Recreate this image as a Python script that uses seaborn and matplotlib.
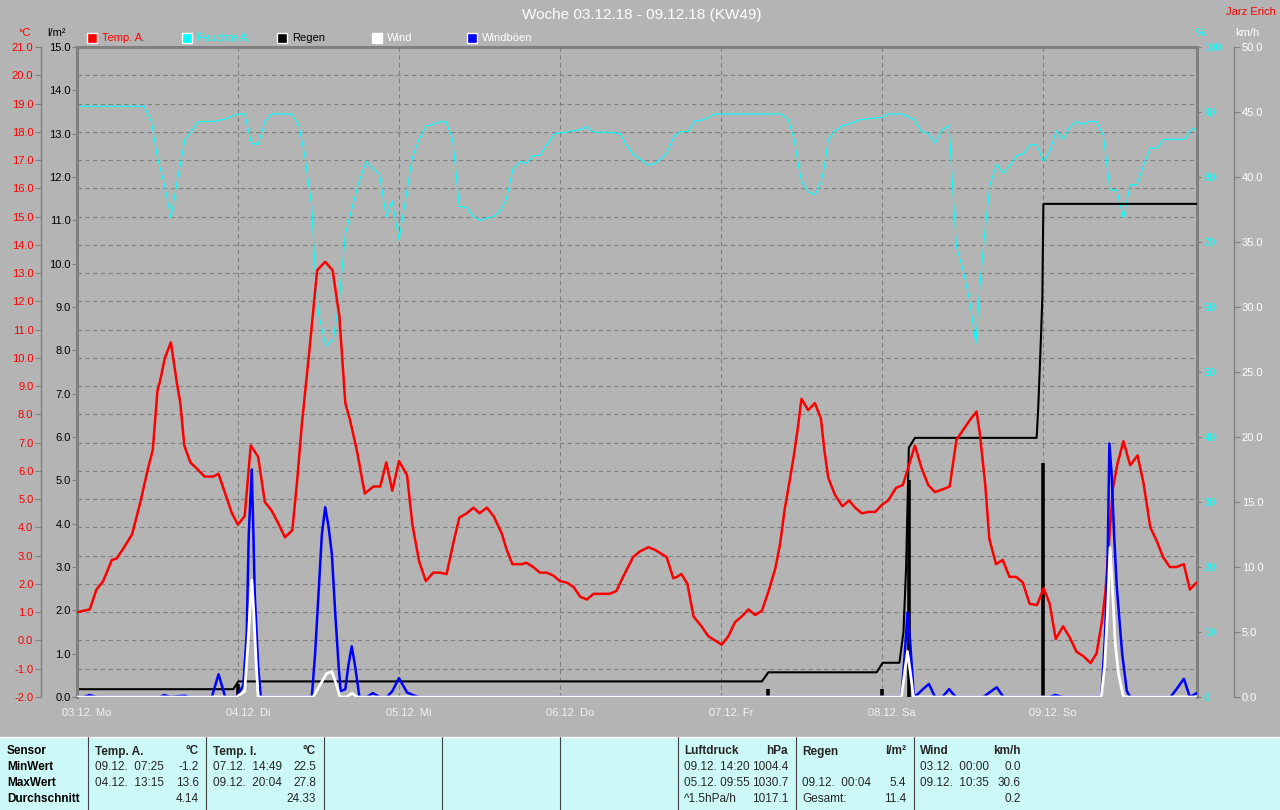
import numpy as np
import matplotlib.pyplot as plt
import seaborn as sns
from matplotlib.patches import Rectangle
from matplotlib.lines import Line2D
from matplotlib.transforms import blended_transform_factory

sns.set_style("white")
plt.rcParams['font.family'] = ['Liberation Sans', 'DejaVu Sans']

# ---- data (hours since 03.12. 00:00) ----
temp_h = [0.0, 1.9, 2.9, 3.9, 5.2, 5.9, 6.9, 8.2, 9.4, 10.6, 11.3, 12.0, 12.4, 13.1, 14.0, 14.9,
          15.4, 16.0, 16.9, 17.8, 19.0, 20.3, 21.1, 21.8, 23.1, 24.0, 25.0, 25.9, 27.0, 28.0,
          29.0, 30.0, 31.0, 32.1, 32.8, 33.5, 34.7, 35.8, 37.0, 38.1, 39.1, 40.0, 40.7, 41.7,
          42.9, 44.2, 45.2, 46.1, 47.0, 48.0, 49.2, 50.0, 51.0, 52.0, 53.1, 54.1, 55.1, 56.1,
          57.0, 58.1, 59.1, 60.0, 61.1, 62.1, 63.3, 64.0, 64.9, 66.3, 67.0, 68.0, 69.0, 70.0,
          71.0, 72.0, 73.0, 74.0, 75.0, 76.0, 77.0, 78.0, 79.4, 80.4, 81.4, 82.9, 83.9, 85.2,
          86.2, 86.9, 87.9, 88.9, 89.4, 90.1, 91.0, 91.9, 93.1, 94.1, 95.1, 96.1, 97.1, 98.1,
          99.1, 100.1, 101.1, 102.1, 103.1, 104.1, 104.8, 105.5, 106.2, 106.9, 107.5, 108.0,
          109.0, 110.0, 110.9, 111.4, 112.0, 113.0, 114.1, 115.1, 116.0, 117.0, 118.0, 119.0,
          120.0, 120.9, 122.1, 123.1, 123.9, 124.9, 125.9, 126.9, 127.9, 129.1, 130.1, 131.1,
          132.1, 133.1, 134.1, 134.6, 135.4, 136.0, 137.0, 138.0, 139.0, 140.0, 141.0, 142.0,
          143.1, 144.1, 145.0, 145.9, 147.0, 148.0, 149.0, 150.0, 151.1, 152.0, 152.8, 153.3,
          153.9, 154.4, 155.1, 156.0, 157.0, 158.1, 159.0, 160.0, 161.0, 161.9, 162.9, 163.9,
          165.0, 165.9, 166.9]
temp_c = [1.0, 1.1, 1.8, 2.1, 2.85, 2.9, 3.25, 3.75, 4.85, 6.1, 6.75, 8.85, 9.2, 10.0, 10.55, 9.1,
          8.4, 6.9, 6.3, 6.1, 5.8, 5.8, 5.9, 5.4, 4.5, 4.1, 4.4, 6.9, 6.5, 4.9,
          4.6, 4.15, 3.65, 3.9, 5.6, 7.6, 10.4, 13.1, 13.4, 13.1, 11.5, 8.4, 7.8, 6.75,
          5.2, 5.45, 5.45, 6.3, 5.3, 6.35, 5.85, 4.1, 2.8, 2.1, 2.4, 2.4, 2.35, 3.45,
          4.35, 4.5, 4.7, 4.5, 4.7, 4.4, 3.8, 3.25, 2.7, 2.7, 2.75, 2.6, 2.4, 2.4,
          2.3, 2.1, 2.05, 1.9, 1.55, 1.45, 1.65, 1.65, 1.65, 1.75, 2.25, 2.95, 3.15, 3.3,
          3.2, 3.1, 2.95, 2.2, 2.25, 2.35, 2.0, 0.85, 0.5, 0.15, 0.0, -0.15, 0.15, 0.65,
          0.85, 1.1, 0.9, 1.05, 1.75, 2.55, 3.4, 4.65, 5.6, 6.6, 7.6, 8.55,
          8.15, 8.4, 7.85, 6.75, 5.75, 5.15, 4.75, 4.95, 4.7, 4.5, 4.55, 4.55,
          4.8, 4.95, 5.4, 5.5, 6.1, 6.9, 6.1, 5.5, 5.25, 5.35, 5.45, 7.1,
          7.45, 7.8, 8.1, 7.3, 5.5, 3.6, 2.7, 2.85, 2.25, 2.25, 2.05, 1.3,
          1.25, 1.85, 1.3, 0.05, 0.5, 0.1, -0.4, -0.55, -0.8, -0.45, 0.7, 1.7,
          3.65, 5.35, 6.25, 7.05, 6.2, 6.55, 5.55, 4.0, 3.5, 2.95, 2.6, 2.6,
          2.7, 1.8, 2.05]

hum_h = [0.0, 10.0, 11.1, 12.0, 13.1, 14.0, 15.0, 16.1, 18.1, 20.8, 22.3, 24.0, 25.0, 26.0, 27.0,
         28.0, 29.0, 32.0, 33.1, 34.0, 35.0, 35.5, 36.0, 37.1, 38.2, 39.1, 40.0, 40.9, 41.9,
         43.1, 44.2, 45.1, 46.1, 47.0, 48.0, 49.0, 50.0, 51.0, 52.0, 53.1, 54.1, 55.0, 56.0,
         57.0, 58.1, 59.1, 60.0, 61.1, 62.1, 63.1, 64.0, 65.0, 66.1, 67.0, 68.0, 69.0, 70.0,
         71.3, 73.0, 75.0, 76.0, 77.0, 79.0, 81.0, 81.9, 82.9, 83.9, 85.2, 86.2, 86.9, 87.9,
         89.1, 90.1, 91.1, 92.1, 93.4, 95.1, 105.0, 106.0, 106.9, 107.5, 108.0, 109.0, 110.0,
         110.9, 111.4, 112.0, 113.0, 114.1, 115.2, 116.7, 118.2, 120.2, 120.9, 122.9, 124.9,
         125.9, 126.9, 127.9, 129.0, 130.0, 130.5, 131.1, 132.1, 133.1, 134.0, 134.6, 135.3,
         136.1, 137.1, 138.1, 139.1, 140.1, 141.1, 142.1, 143.1, 144.1, 145.0, 146.0, 147.0,
         148.0, 149.0, 150.0, 151.0, 152.0, 153.0, 154.0, 155.0, 156.0, 157.0, 158.0, 159.0,
         160.0, 161.0, 162.0, 165.2, 165.9, 166.9]
hum_pct = [90.9, 90.9, 88.5, 83.0, 78.5, 73.7, 79.7, 85.8, 88.5, 88.6, 89.0, 89.7, 89.7, 85.2, 85.0,
           88.5, 89.7, 89.7, 87.9, 83.0, 75.4, 65.7, 59.0, 54.0, 55.0, 61.1, 71.2, 74.8, 78.8,
           82.4, 81.2, 80.4, 73.9, 76.3, 70.3, 76.6, 83.0, 85.8, 87.8, 88.1, 88.5, 88.5, 85.8,
           75.5, 75.3, 73.9, 73.3, 73.7, 73.9, 74.8, 76.6, 81.2, 82.4, 82.1, 83.3, 83.3, 84.9,
           86.7, 86.9, 87.3, 87.7, 86.9, 86.9, 86.7, 84.9, 83.5, 82.8, 81.8, 82.1, 82.7, 83.6,
           86.4, 87.0, 87.0, 88.6, 88.8, 89.7, 89.7, 88.9, 85.8, 82.1, 79.4, 77.7, 77.3,
           79.1, 81.5, 85.8, 87.1, 87.9, 88.2, 88.8, 89.0, 89.2, 89.7, 89.7, 88.8,
           87.0, 86.7, 85.2, 87.3, 87.9, 79.1, 69.3, 65.7, 60.8, 54.4, 63.3, 71.2,
           78.8, 81.9, 80.6, 81.8, 83.3, 83.6, 85.0, 84.9, 82.4, 83.9, 87.1, 85.8,
           87.7, 88.5, 88.1, 88.6, 88.5, 86.4, 78.0, 78.0, 73.6, 78.8, 78.8, 81.8,
           84.5, 84.4, 85.8, 85.8, 87.1, 87.6]

# accumulated rain (l/m²)
rain_sum_h = [0.0, 23.3, 24.05, 102.1, 103.06, 119.2, 120.1, 122.6, 123.2, 123.6, 124.0, 124.9,
              143.06, 143.3, 143.5, 143.7, 143.9, 144.06, 166.96]
rain_sum = [0.18, 0.18, 0.36, 0.36, 0.57, 0.57, 0.79, 0.79, 1.5, 3.0, 5.75, 5.98,
            5.98, 6.7, 7.5, 8.3, 9.2, 11.38, 11.38]
# rain per interval (l/m²)
rain_bar_h = [0.0, 24.0, 103.0, 120.0, 124.0, 144.05]
rain_bar = [0.18, 0.3, 0.18, 0.18, 5.0, 5.4]

gust_h = [0.0, 0.9, 1.9, 2.9, 12.4, 13.0, 13.9, 16.1, 16.6, 20.1, 21.1, 22.1, 23.8, 24.8, 25.3,
          25.6, 26.05, 26.3, 26.5, 27.0, 27.4, 35.0, 35.5, 36.0, 36.5, 37.0, 37.5, 38.0, 38.5,
          39.0, 39.3, 40.0, 40.45, 40.95, 41.45, 42.1, 43.2, 44.1, 45.1, 46.2, 47.0, 48.0, 49.2,
          50.1, 50.9, 122.9, 123.4, 123.8, 124.2, 124.7, 124.9, 126.1, 127.0, 127.9, 129.0,
          130.0, 131.0, 135.1, 137.1, 138.1, 145.0, 145.8, 147.0, 152.7, 153.2, 153.6, 153.9,
          154.25, 154.6, 155.0, 155.8, 156.5, 157.0, 163.0, 163.9, 165.0, 165.9, 166.9]
gust = [0, 0, 0.15, 0, 0, 0.15, 0, 0.1, 0, 0, 1.75, 0, 0, 0.9, 4.9,
        12.5, 17.5, 12.5, 7.9, 2.4, 0, 0, 3.35, 7.9, 12.5, 14.6, 13.1, 10.95, 6.4,
        2.4, 0.45, 0.6, 2.4, 3.9, 2.4, 0, 0, 0.3, 0, 0, 0.45, 1.45, 0.35,
        0.15, 0, 0, 3.35, 6.5, 4.25, 0.45, 0, 0.6, 1.0, 0, 0,
        0.6, 0, 0, 0.75, 0, 0, 0.15, 0, 0, 4.25, 9.4, 19.5,
        17.0, 12.5, 8.5, 3.35, 0.45, 0, 0, 0.6, 1.4, 0, 0.3]

wind_h = [0.0, 23.8, 25.0, 25.5, 26.05, 26.3, 26.7, 27.0, 35.2, 36.2, 37.2, 38.0, 38.7, 39.2,
          40.2, 41.0, 41.7, 122.9, 123.4, 123.8, 124.2, 124.7, 152.7, 153.2, 153.6, 154.0,
          154.4, 154.75, 155.25, 156.0, 166.96]
wind = [0, 0, 0.45, 4.25, 9.0, 7.0, 2.75, 0, 0, 0.9, 1.8, 1.95, 0.9, 0,
        0, 0.3, 0, 0, 2.0, 3.5, 2.0, 0, 0, 2.4, 6.4, 11.5,
        7.9, 4.25, 1.8, 0, 0]

day_labels = ['03.12. Mo', '04.12. Di', '05.12. Mi', '06.12. Do', '07.12. Fr', '08.12. Sa', '09.12. So']

legend_items = [('Temp. A.', 'red', 'red'), ('Feuchte A.', 'cyan', 'cyan'),
                ('Regen', 'black', 'black'), ('Wind', 'white', 'white'),
                ('Windböen', 'blue', 'white')]

sensor_rows = ['Sensor', 'MinWert', 'MaxWert', 'Durchschnitt']
table_blocks = [
    ('Temp. A.', '°C', [('09.12.  07:25', '-1.2'), ('04.12.  13:15', '13.6'), ('', '4.14')]),
    ('Temp. I.', '°C', [('07.12.  14:49', '22.5'), ('09.12.  20:04', '27.8'), ('', '24.33')]),
    ('Luftdruck', 'hPa', [('09.12. 14:20', '1004.4'), ('05.12. 09:55', '1030.7'), ('^1.5hPa/h', '1017.1')]),
    ('Regen', 'l/m²', [('', ''), ('09.12.  00:04', '5.4'), ('Gesamt:', '11.4')]),
    ('Wind', 'km/h', [('03.12.  00:00', '0.0'), ('09.12.  10:35', '30.6'), ('', '0.2')]),
]

# ---- layout ----
W, H = 1280, 810
BG = '#B4B4B4'
GRID = '#808080'
L, T, R, B = 77, 47, 1197, 697
XMAX = 166.96


def fx(px):
    return px / W


def fy(py):
    return 1 - py / H


fig = plt.figure(figsize=(12.8, 8.1), dpi=100)
fig.patch.set_facecolor(BG)
rect = [fx(L), fy(B), (R - L) / W, (B - T) / H]

# base axes: temperature scale + grid
ax = fig.add_axes(rect)
ax.set_facecolor(BG)
ax.set_xlim(0, XMAX)
ax.set_ylim(-2, 21)
ax.set_yticks(np.arange(-2, 22, 1))
ax.set_yticklabels([f'{v:.1f}' for v in np.arange(-2, 22, 1)])
ax.set_xticks(np.arange(0, 168, 24))
ax.set_xticklabels([])
ax.grid(True, color=GRID, linestyle=(0, (4, 3)), linewidth=0.8)
for s in ['top', 'right', 'bottom']:
    ax.spines[s].set_visible(False)
ax.spines['left'].set_position(('axes', -(L - 41) / (R - L)))
ax.spines['left'].set_color(GRID)
ax.spines['left'].set_linewidth(1)
ax.tick_params(axis='y', direction='out', length=4.5, width=0.8, color=GRID,
               labelcolor='red', labelsize=8, pad=1)
ax.tick_params(axis='x', direction='out', length=2.5, width=0.8, color=GRID)

# humidity
ax_h = ax.twinx()
ax_h.set_ylim(0, 100)
ax_h.set_yticks(np.arange(0, 101, 10))
ax_h.set_yticklabels([str(v) for v in range(0, 101, 10)])
for s in ['top', 'left', 'bottom']:
    ax_h.spines[s].set_visible(False)
ax_h.spines['right'].set_color(GRID)
ax_h.spines['right'].set_linewidth(2.2)
ax_h.tick_params(axis='y', direction='out', length=3, width=0.8, color=GRID,
                 labelcolor='cyan', labelsize=8, pad=1.5)
sns.lineplot(x=hum_h, y=hum_pct, ax=ax_h, color='cyan', linewidth=0.8,
             estimator=None, sort=False, legend=False)

# rain
ax_r = ax.twinx()
ax_r.set_ylim(0, 15)
ax_r.yaxis.tick_left()
ax_r.set_yticks(np.arange(0, 16, 1))
ax_r.set_yticklabels([f'{v:.1f}' for v in range(0, 16)])
ax_r.spines['right'].set_visible(False)
ax_r.spines['bottom'].set_visible(False)
for s in ['left', 'top']:
    ax_r.spines[s].set_color(GRID)
    ax_r.spines[s].set_linewidth(2.2)
ax_r.tick_params(axis='y', direction='out', length=3.5, width=0.8, color=GRID,
                 labelcolor='black', labelsize=8, pad=1)
sns.lineplot(x=rain_sum_h, y=rain_sum, ax=ax_r, color='black', linewidth=1.5,
             estimator=None, sort=False, legend=False)
ax_r.vlines(rain_bar_h, 0, rain_bar, color='black', linewidth=2.6)

# temperature line
ax_t = ax.twinx()
ax_t.set_ylim(-2, 21)
ax_t.set_yticks([])
for s in ax_t.spines.values():
    s.set_visible(False)
sns.lineplot(x=temp_h, y=temp_c, ax=ax_t, color='red', linewidth=1.8,
             estimator=None, sort=False, legend=False)

# wind / gusts
ax_w = ax.twinx()
ax_w.set_ylim(0, 50)
ax_w.set_yticks(np.arange(0, 51, 5))
ax_w.set_yticklabels([f'{v:.1f}' for v in range(0, 51, 5)])
for s in ['top', 'left', 'bottom']:
    ax_w.spines[s].set_visible(False)
ax_w.spines['right'].set_position(('axes', (1234 - L) / (R - L)))
ax_w.spines['right'].set_color(GRID)
ax_w.spines['right'].set_linewidth(1)
ax_w.tick_params(axis='y', direction='out', length=4, width=0.8, color=GRID,
                 labelcolor='white', labelsize=8, pad=1.5)
sns.lineplot(x=gust_h, y=gust, ax=ax_w, color='blue', linewidth=1.8,
             estimator=None, sort=False, legend=False)
sns.lineplot(x=wind_h, y=wind, ax=ax_w, color='white', linewidth=2.0,
             estimator=None, sort=False, legend=False)

for a in [ax, ax_h, ax_r, ax_t, ax_w]:
    a.set_xlim(0, XMAX)
    a.set_xlabel('')
    a.set_ylabel('')

# day labels under the x axis
tr = blended_transform_factory(ax.transData, fig.transFigure)
for i, lab in enumerate(day_labels):
    ax.text(i * 24 + 1.5, fy(713), lab, transform=tr, ha='center', va='center',
            color='#F2F2F2', fontsize=8)

# title and header texts
fig.text(fx(642), fy(15), 'Woche 03.12.18 - 09.12.18 (KW49)', ha='center', va='center',
         color='white', fontsize=11)
fig.text(fx(1276), fy(12), 'Jarz Erich', ha='right', va='center', color='red', fontsize=8)
fig.text(fx(25), fy(33), '°C', ha='center', va='center', color='red', fontsize=8)
fig.text(fx(57), fy(33), 'l/m²', ha='center', va='center', color='black', fontsize=8)
fig.text(fx(1201), fy(33), '%', ha='center', va='center', color='cyan', fontsize=8)
fig.text(fx(1247), fy(33), 'km/h', ha='center', va='center', color='white', fontsize=8)

for i, (lab, fc, tc) in enumerate(legend_items):
    x0 = 87 + 95 * i
    fig.patches.append(Rectangle((fx(x0), fy(43)), 10 / W, 10 / H, transform=fig.transFigure,
                                 facecolor=fc, edgecolor='white', linewidth=1))
    fig.text(fx(x0 + 15), fy(38), lab, ha='left', va='center', color=tc, fontsize=8)

# bottom statistics panel
fig.patches.append(Rectangle((0, 0), 1, fy(737), transform=fig.transFigure,
                             facecolor='#CCF9F7', edgecolor='none'))
fig.lines.append(Line2D([0, 1], [fy(737), fy(737)], transform=fig.transFigure,
                        color='white', linewidth=1))
for xs in [88, 206, 324, 442, 560, 678, 796, 914]:
    fig.lines.append(Line2D([fx(xs), fx(xs)], [0, fy(737)], transform=fig.transFigure,
                            color='#404040', linewidth=0.8))

row_y = [751.5, 767.5, 783.5, 799.5]
for lab, yy in zip(sensor_rows, row_y):
    fig.text(fx(7), fy(yy), lab, ha='left', va='center', fontsize=8.5, weight='bold', color='black')

block_x = [(95, 199), (213, 316), (684, 788), (802, 906), (920, 1021)]
for (xl, xr), (head, unit, rows) in zip(block_x, table_blocks):
    fig.text(fx(xl), fy(row_y[0]), head, ha='left', va='center', fontsize=8.5, weight='bold')
    fig.text(fx(xr), fy(row_y[0]), unit, ha='right', va='center', fontsize=8.5, weight='bold')
    for (left, right), yy in zip(rows, row_y[1:]):
        fig.text(fx(xl), fy(yy), left, ha='left', va='center', fontsize=8.5)
        fig.text(fx(xr), fy(yy), right, ha='right', va='center', fontsize=8.5)

fig.savefig('out.png', dpi=100, facecolor=BG)
